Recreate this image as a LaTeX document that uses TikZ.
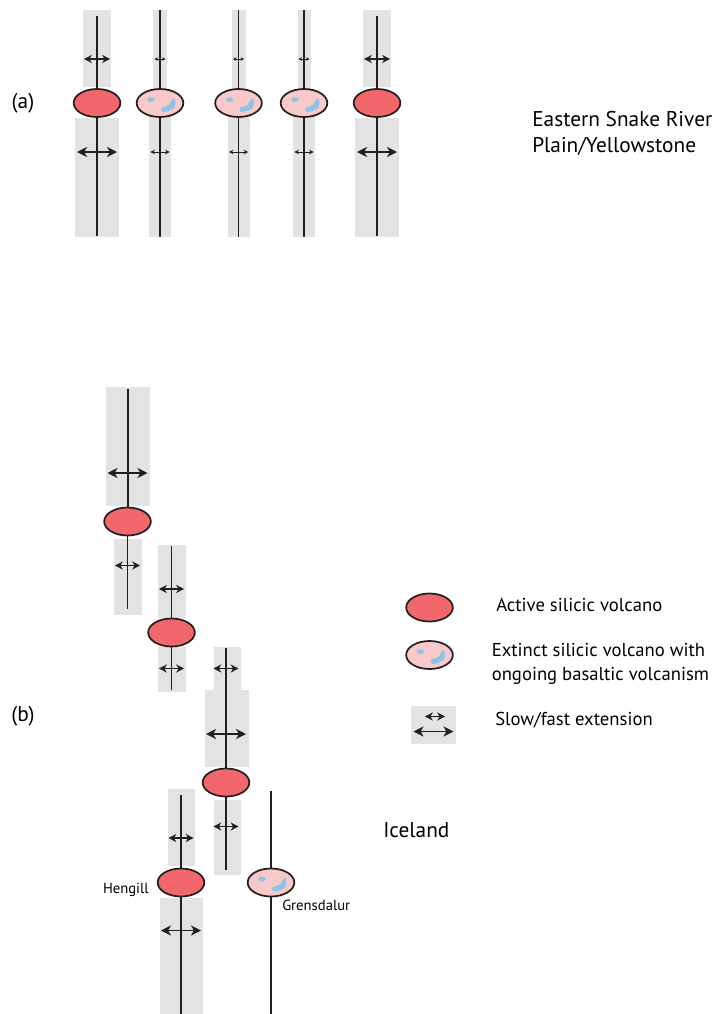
\documentclass[tikz,border=0pt]{standalone}
\usepackage{fontspec}
\setmainfont{PT Sans}
\usetikzlibrary{arrows.meta,shapes.geometric}

\definecolor{riftgray}{RGB}{227,227,227}
\definecolor{activered}{RGB}{242,103,107}
\definecolor{extinctpink}{RGB}{249,201,201}
\definecolor{blobblue}{RGB}{140,196,236}
\definecolor{inkdark}{RGB}{35,31,32}

\tikzset{
  zone/.style={fill=riftgray, draw=none},
  fastrift/.style={draw=inkdark, line width=1.5pt},
  slowrift/.style={draw=inkdark, line width=0.9pt},
  active/.style={ellipse, draw=inkdark, line width=1.3pt, fill=activered,
    minimum width=35pt, minimum height=21pt, inner sep=0pt},
  extinct/.style={active, fill=extinctpink},
  bigarrow/.style={{Stealth[length=7.5pt,width=7.5pt,inset=2.2pt]}-{Stealth[length=7.5pt,width=7.5pt,inset=2.2pt]},
    draw=inkdark, line width=1.3pt},
  midarrow/.style={{Stealth[length=5.8pt,width=6pt,inset=1.7pt]}-{Stealth[length=5.8pt,width=6pt,inset=1.7pt]},
    draw=inkdark, line width=1.15pt},
  smallarrow/.style={{Stealth[length=3.2pt,width=3.4pt,inset=0.9pt]}-{Stealth[length=3.2pt,width=3.4pt,inset=0.9pt]},
    draw=inkdark, line width=0.65pt},
  tinyarrow/.style={{Stealth[length=2.4pt,width=2.6pt,inset=0.6pt]}-{Stealth[length=2.4pt,width=2.6pt,inset=0.6pt]},
    draw=inkdark, line width=0.55pt},
  biglabel/.style={inner sep=0.75pt, font=\fontsize{16}{19.5}\selectfont, align=left},
  keylabel/.style={inner sep=0.75pt, font=\fontsize{14}{18}\selectfont, align=left},
  namelabel/.style={inner sep=0.75pt, font=\fontsize{11}{13}\selectfont}
}

% basaltic patches inside an extinct volcano
\newcommand{\basaltpatches}[1]{%
  \begin{scope}[shift={(#1.center)}]
    \fill[blobblue] (-13,-3) .. controls (-12,-6.5) and (-7,-6.5) .. (-5,-4) .. controls (-6,-0.5) and (-11,0) .. (-13,-3) -- cycle;
    \fill[blobblue, rounded corners=1pt] (1,4.5) -- (7,3) -- (10,1) -- (11.5,-3) -- (14.5,-5.5) -- (15.5,-1) -- (15,4) -- (12,6.5) -- (7,8.5) -- (1.5,9) -- cycle;
  \end{scope}}

\begin{document}
\begin{tikzpicture}[x=0.75pt,y=0.75pt,yscale=-1,xscale=1]
  \useasboundingbox (0,0) rectangle (725,1014);

  %% ---------------- (a) Eastern Snake River Plain ----------------
  %Shape: Rectangle [rift zones]
  \fill[zone] (83,10) rectangle (111,87);
  \fill[zone] (75,118) rectangle (119,237);
  \fill[zone] (153,10) rectangle (167,95);
  \fill[zone] (149,110) rectangle (171,237);
  \fill[zone] (231.5,10) rectangle (245.5,95);
  \fill[zone] (227.5,110) rectangle (249.5,237);
  \fill[zone] (297.5,10) rectangle (311,95);
  \fill[zone] (293,110) rectangle (315,237);
  \fill[zone] (363,10) rectangle (391,87);
  \fill[zone] (355,118) rectangle (399,237);

  %Shape: Ellipse [volcanoes]
  \node[active] (a1) at (97,103) {};
  \node[extinct] (a2) at (160,103) {};
  \node[extinct] (a3) at (238.5,103) {};
  \node[extinct] (a4) at (304,103) {};
  \node[active] (a5) at (377,103) {};
  \basaltpatches{a2}
  \basaltpatches{a3}
  \basaltpatches{a4}

  %Straight Lines [rift axes]
  \coordinate (a1t) at (97,16);    \coordinate (a1b) at (97,236);
  \coordinate (a2t) at (160,10);   \coordinate (a2b) at (160,237);
  \coordinate (a3t) at (238.5,10); \coordinate (a3b) at (238.5,237);
  \coordinate (a4t) at (304,10);   \coordinate (a4b) at (304,237);
  \coordinate (a5t) at (377,16);   \coordinate (a5b) at (377,236);
  \draw[fastrift] (a1t) -- (a1.north) (a1.south) -- (a1b);
  \draw[slowrift] (a2t) -- (a2.north) (a2.south) -- (a2b);
  \draw[slowrift] (a3t) -- (a3.north) (a3.south) -- (a3b);
  \draw[slowrift] (a4t) -- (a4.north) (a4.south) -- (a4b);
  \draw[fastrift] (a5t) -- (a5.north) (a5.south) -- (a5b);

  %Arrows [extension]
  \draw[midarrow] (84,59) -- (110,59);
  \draw[bigarrow] (77,152) -- (117,152);
  \draw[tinyarrow] (154.5,59) -- (165.5,59);
  \draw[smallarrow] (150.5,152) -- (169.5,152);
  \draw[tinyarrow] (233,59) -- (244,59);
  \draw[smallarrow] (229,152) -- (248,152);
  \draw[tinyarrow] (298.5,59) -- (309.5,59);
  \draw[smallarrow] (294.5,152) -- (313.5,152);
  \draw[midarrow] (364,59) -- (390,59);
  \draw[bigarrow] (357,152) -- (397,152);

  % Text Node
  \node[biglabel] (alab) at (23,103) {(a)};
  % Text Node
  \node[biglabel, anchor=west] (esrp) at (531,133) {Eastern Snake River\\Plain/Yellowstone};

  %% ---------------- (b) Iceland ----------------
  %Shape: Rectangle [rift zones]
  \fill[zone] (105.5,387) rectangle (149.5,506);
  \fill[zone] (113.5,538.5) rectangle (141.5,614.5);
  \fill[zone] (157.5,545) rectangle (185.5,618);
  \fill[zone] (157.5,646.5) rectangle (185.5,692);
  \fill[zone] (213.5,646.5) rectangle (240.5,690);
  \fill[zone] (205,690) rectangle (249,767);
  \fill[zone] (213.5,800) rectangle (240.5,875);
  \fill[zone] (167.5,789) rectangle (194.5,866);
  \fill[zone] (159.5,897.5) rectangle (202.5,1014);

  %Shape: Ellipse [volcanoes]
  \node[active] (b1) at (127.5,521.5) {};
  \node[active] (b2) at (171.5,632.5) {};
  \node[active] (b3) at (226,782.5) {};
  \node[active] (heng) at (181,882.5) {};
  \node[extinct] (gren) at (271,882.5) {};
  \basaltpatches{gren}

  %Straight Lines [rift axes]
  \coordinate (b1t) at (127.5,389);  \coordinate (b1b) at (127.5,609);
  \coordinate (b2t) at (171.5,546);  \coordinate (b2b) at (171.5,690);
  \coordinate (b3s) at (226,648);    \coordinate (b3t) at (226,690.5);
  \coordinate (b3b) at (226,870);
  \coordinate (hengt) at (181,795);  \coordinate (hengb) at (181,1014);
  \coordinate (grent) at (271,790.5); \coordinate (grenb) at (271,1014);
  \draw[fastrift] (b1t) -- (b1.north);
  \draw[slowrift] (b1.south) -- (b1b);
  \draw[slowrift] (b2t) -- (b2.north) (b2.south) -- (b2b);
  \draw[slowrift] (b3s) -- (b3t);
  \draw[fastrift] (b3t) -- (b3.north);
  \draw[slowrift] (b3.south) -- (b3b);
  \draw[slowrift] (hengt) -- (heng.north);
  \draw[fastrift] (heng.south) -- (hengb);
  \draw[slowrift] (grent) -- (gren.north) (gren.south) -- (grenb);

  %Arrows [extension]
  \draw[bigarrow] (107.5,473) -- (147.5,473);
  \draw[midarrow] (115,565.5) -- (140,565.5);
  \draw[midarrow] (159,589) -- (184,589);
  \draw[midarrow] (159,668.5) -- (184,668.5);
  \draw[midarrow] (213.5,668.5) -- (238.5,668.5);
  \draw[bigarrow] (206,734) -- (246,734);
  \draw[midarrow] (213.5,826.5) -- (238.5,826.5);
  \draw[midarrow] (168.5,838) -- (193.5,838);
  \draw[bigarrow] (161,930.5) -- (201,930.5);

  % Text Node
  \node[biglabel] (blab) at (23,716) {(b)};
  % Text Node
  \node[biglabel, anchor=west] (ice) at (382,830) {Iceland};
  % Text Node
  \node[namelabel, anchor=east] (henglab) at (150,890) {Hengill};
  % Text Node
  \node[namelabel, anchor=west] (grenlab) at (281,905) {Grensdalur};

  %% ---------------- legend ----------------
  \node[active] (keyact) at (429.5,607.5) {};
  \node[extinct] (keyext) at (429.5,655) {};
  \basaltpatches{keyext}
  \fill[zone] (411,706) rectangle (456,744);
  \draw[midarrow] (425,716.5) -- (445,716.5);
  \draw[bigarrow] (413.5,731.5) -- (453.5,731.5);

  % Text Node
  \node[keylabel, anchor=west] (actlab) at (495,605) {Active silicic volcano};
  % Text Node
  \node[keylabel, anchor=west] (extlab) at (490.5,664) {Extinct silicic volcano with\\ongoing basaltic volcanism};
  % Text Node
  \node[keylabel, anchor=west] (extnlab) at (494,720) {Slow/fast extension};

\end{tikzpicture}
\end{document}
